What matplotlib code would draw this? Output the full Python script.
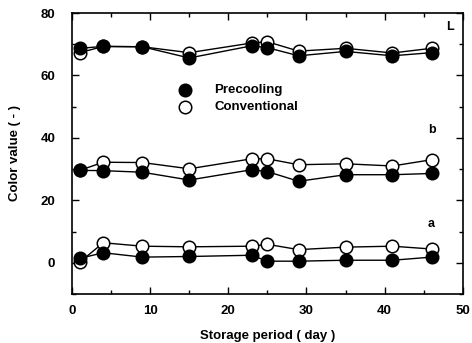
import matplotlib
matplotlib.use('Agg')
import matplotlib.pyplot as plt
from matplotlib.ticker import MultipleLocator

# storage period (day)
days = [1, 4, 9, 15, 23, 25, 29, 35, 41, 46]

# L value
L_pre = [68.7, 69.3, 69.2, 65.6, 69.5, 68.9, 66.3, 67.7, 66.3, 67.3]
L_conv = [67.3, 69.3, 69.2, 67.3, 70.4, 70.8, 67.8, 68.7, 67.2, 68.7]

# b value
b_pre = [29.6, 29.5, 29.0, 26.5, 29.8, 29.2, 26.1, 28.2, 28.2, 28.6]
b_conv = [29.6, 32.2, 32.1, 30.1, 33.3, 33.3, 31.4, 31.7, 31.0, 33.0]

# a value
a_pre = [1.4, 3.2, 1.8, 2.0, 2.4, 0.5, 0.5, 0.8, 0.8, 1.8]
a_conv = [0.2, 6.4, 5.3, 5.1, 5.3, 5.9, 4.2, 5.0, 5.3, 4.4]

series_labels = ['L', 'b', 'a']
label_pos = [(48.4, 75.5), (46.0, 42.5), (46.0, 12.5)]

plt.rcParams['font.family'] = ['Liberation Sans', 'DejaVu Sans']
plt.rcParams['font.weight'] = 'bold'

fig = plt.figure(figsize=(4.72, 3.43), dpi=100)
ax = fig.add_axes([0.1525, 0.143, 0.828, 0.819])

pre_style = dict(color='black', lw=1.0, marker='o', ms=9,
                 mfc='black', mec='black', mew=1.1)
conv_style = dict(color='black', lw=1.0, marker='o', ms=9,
                  mfc='white', mec='black', mew=1.1)

for pre, conv in [(L_pre, L_conv), (b_pre, b_conv), (a_pre, a_conv)]:
    ax.plot(days, conv, **conv_style, zorder=3)
    ax.plot(days, pre, **pre_style, zorder=4)

for lab, (x, y) in zip(series_labels, label_pos):
    ax.text(x, y, lab, fontsize=9, fontweight='bold', ha='center', va='center')

# legend drawn by hand like the original
ax.plot([14.5], [55.2], ls='none', **{k: v for k, v in pre_style.items() if k != 'lw'})
ax.plot([14.5], [50.0], ls='none', **{k: v for k, v in conv_style.items() if k != 'lw'})
ax.text(18.2, 55.2, 'Precooling', fontsize=9.5, fontweight='bold', va='center')
ax.text(18.2, 50.0, 'Conventional', fontsize=9.5, fontweight='bold', va='center')

ax.set_xlim(0, 50)
ax.set_ylim(-10, 80)
ax.set_xticks([0, 10, 20, 30, 40, 50])
ax.set_yticks([0, 20, 40, 60, 80])
ax.xaxis.set_minor_locator(MultipleLocator(5))
ax.yaxis.set_minor_locator(MultipleLocator(10))
ax.tick_params(which='both', direction='in', top=True, right=True,
               labelsize=9.5, width=1.0)
ax.tick_params(which='major', length=5)
ax.tick_params(axis='x', which='major', pad=8)
ax.tick_params(axis='y', which='major', pad=12)
ax.tick_params(which='minor', length=3)
for s in ax.spines.values():
    s.set_linewidth(1.2)

ax.set_xlabel('Storage period ( day )', fontsize=9.5, fontweight='bold', labelpad=9)
ax.set_ylabel('Color value ( - )', fontsize=9.5, fontweight='bold', labelpad=14)

fig.savefig('out.png', dpi=100)
